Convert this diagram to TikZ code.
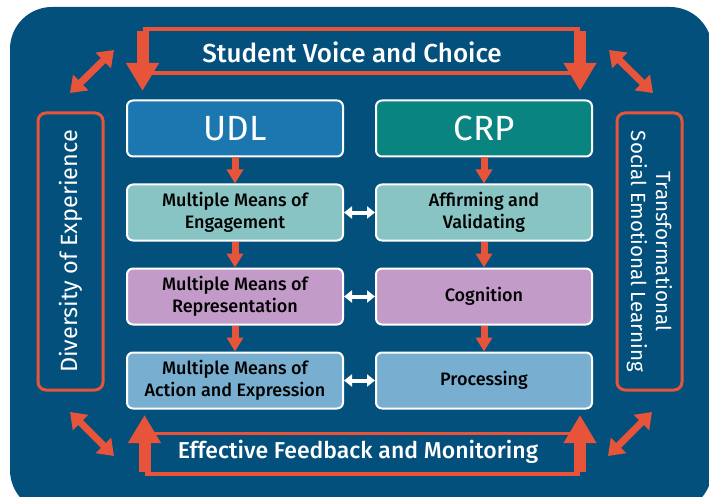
\documentclass[tikz,border=0pt]{standalone}
\usepackage{fontspec}
\setmainfont{Fira Sans}[UprightFont=* Medium, BoldFont=* Medium]
\newfontfamily\headfont{Fira Sans}
\usepackage{tikz}
\usetikzlibrary{arrows.meta, positioning}
\definecolor{bgblue}{HTML}{03507C}
\definecolor{accent}{HTML}{E8543A}
\definecolor{udlblue}{HTML}{1C77B1}
\definecolor{crpteal}{HTML}{098481}
\definecolor{engteal}{HTML}{87C4C3}
\definecolor{reppurple}{HTML}{C39BC9}
\definecolor{actblue}{HTML}{78AFD1}

\begin{document}
\begin{tikzpicture}[x=1pt, y=-1pt, node distance=26pt and 31pt,
		head/.style={draw=white, line width=2pt, rounded corners=6pt, minimum width=216pt, minimum height=56pt, text=white, font=\headfont\fontsize{35}{38}\selectfont},
		means/.style={draw=white, line width=2pt, rounded corners=6pt, minimum width=216pt, minimum height=56pt, align=center, font=\fontsize{18}{21.5}\selectfont},
		sidebox/.style={draw=accent, line width=3pt, rounded corners=8pt, minimum width=277pt, minimum height=65pt, text=white, align=center},
		title/.style={text=white, font=\fontsize{23}{28}\selectfont},
		rule/.style={accent, line width=4pt},
		bigarrow/.style={accent, line width=12pt, -{Triangle[width=31pt,length=28pt]}},
		downarrow/.style={accent, line width=7pt, -{Triangle[width=16pt,length=14pt]}},
		linkarrow/.style={white, line width=4pt, {Triangle[width=12pt,length=8pt]}-{Triangle[width=12pt,length=8pt]}},
		cornerarrow/.style={accent, line width=7pt, {Triangle[width=21pt,length=15pt]}-{Triangle[width=21pt,length=15pt]}}]
		\useasboundingbox (0,0) rectangle (709,497);
		\fill[bgblue, rounded corners=42pt] (10,7) rectangle (712,512);

		\node[head, fill=udlblue] (udl) at (235,128.5) {UDL};
		\node[head, fill=crpteal, right=of udl] (crp) {CRP};
		\node[means, fill=engteal, below=of udl] (eng) {Multiple Means of\\Engagement};
		\node[means, fill=reppurple, below=of eng] (rep) {Multiple Means of\\Representation};
		\node[means, fill=actblue, below=of rep] (act) {Multiple Means of\\Action and Expression};
		\node[means, fill=engteal, below=of crp] (aff) {Affirming and\\Validating};
		\node[means, fill=reppurple, below=of aff] (cog) {Cognition};
		\node[means, fill=actblue, below=of cog] (proc) {Processing};
		\foreach \from/\to in {udl/eng,eng/rep,rep/act,crp/aff,aff/cog,cog/proc}
			\draw[downarrow] (\from) -- (\to);
		\foreach \from/\to in {eng/aff,rep/cog,act/proc}
			\draw[linkarrow] (\from) -- (\to);

		\node[sidebox, rotate=90, font=\headfont\fontsize{23.5}{28}\selectfont] (diversity) at (70.5,251.5) {Diversity of Experience};
		\node[sidebox, rotate=-90, font=\headfont\fontsize{20.5}{25}\selectfont] (sel) at (649.5,251.5) {Transformational\\Social Emotional Learning};

		\node[title, font=\fontsize{26}{30}\selectfont] (voice) at (352,52) {Student Voice and Choice};
		\coordinate (vtl) at (142.5,31);
		\coordinate (vtr) at (580,31);
		\coordinate (vbl) at (142.5,73);
		\coordinate (vbr) at (580,73);
		\coordinate (vlend) at (142.5,91);
		\coordinate (vrend) at (580,91);
		\draw[rule] ([yshift=2pt]vtl) -- ([yshift=2pt]vtr);
		\draw[rule] (vbl) -- (vbr);
		\draw[bigarrow] (vtl) -- (vlend);
		\draw[bigarrow] (vtr) -- (vrend);

		\node[title] (feedback) at (358,452) {Effective Feedback and Monitoring};
		\coordinate (ftl) at (144.5,433.5);
		\coordinate (ftr) at (580,433.5);
		\coordinate (fbl) at (144.5,474);
		\coordinate (fbr) at (580,474);
		\coordinate (flend) at (144.5,415);
		\coordinate (frend) at (580,415);
		\draw[rule, line width=3pt] (ftl) -- (ftr);
		\draw[rule] (fbl) -- (fbr);
		\draw[bigarrow] ([yshift=2pt]fbl) -- (flend);
		\draw[bigarrow] ([yshift=2pt]fbr) -- (frend);

		\coordinate (tla) at (70,93);
		\coordinate (tlb) at (114,50);
		\coordinate (tra) at (609,50);
		\coordinate (trb) at (653,93);
		\coordinate (bla) at (70,412);
		\coordinate (blb) at (114,456);
		\coordinate (bra) at (652,412);
		\coordinate (brb) at (608,456);
		\foreach \from/\to in {tla/tlb,tra/trb,bla/blb,bra/brb}
			\draw[cornerarrow] (\from) -- (\to);
	\end{tikzpicture}
\end{document}
